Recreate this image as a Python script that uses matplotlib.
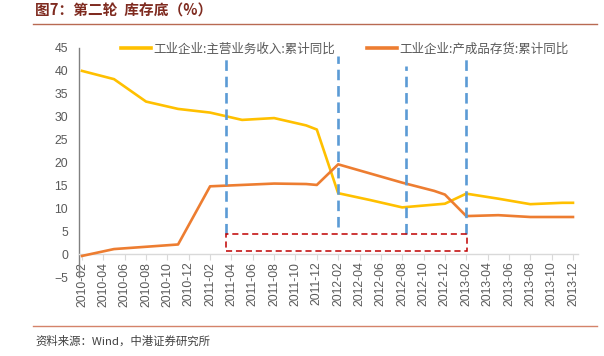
import matplotlib
matplotlib.use("Agg")
import matplotlib.pyplot as plt
from matplotlib.lines import Line2D
from matplotlib.patches import Rectangle

plt.rcParams['font.family'] = ['Noto Sans CJK SC', 'DejaVu Sans']

# ---- data (month index: 2010-01 = 0) ----
tick_pos = list(range(1, 48, 2))
tick_labels = [f"{2010 + (m // 12)}-{(m % 12) + 1:02d}" for m in tick_pos]

months = [1, 4, 7, 10, 13, 16, 19, 22, 23, 25, 28, 31, 34, 35, 37, 40, 43, 46, 47]
revenue = [40.0, 38.2, 33.3, 31.7, 30.9, 29.3, 29.7, 28.1, 27.2, 13.3, 11.8, 10.2,
           10.8, 11.0, 13.2, 12.1, 10.9, 11.2, 11.2]
inventory = [-0.4, 1.1, 1.6, 2.1, 14.8, 15.1, 15.4, 15.3, 15.1, 19.6, 17.6, 15.6,
             13.8, 13.0, 8.3, 8.5, 8.1, 8.1, 8.1]

name_rev = "工业企业:主营业务收入:累计同比"
name_inv = "工业企业:产成品存货:累计同比"

# annotation shapes (x in month index, y in %)
vlines = [(14.47, 4.4, 43.5), (25.0, 5.9, 43.3), (31.4, 4.4, 41.1), (37.0, 4.4, 42.5)]
box = (14.5, 0.7, 37.05, 4.4)

fig = plt.figure(figsize=(6.04, 3.56), dpi=100)
ax = fig.add_axes([79 / 604, 1 - 277 / 356, 499 / 604, 229 / 356])

c_rev = '#FFC000'
c_inv = '#ED7D31'
ax.plot(months, revenue, color=c_rev, lw=1.9, solid_joinstyle='round', zorder=3)
ax.plot(months, inventory, color=c_inv, lw=1.9, solid_joinstyle='round', zorder=3)

for x, y0, y1 in vlines:
    ax.plot([x, x], [y0, y1], color='#5B9BD5', lw=1.9, linestyle=(0, (4, 2.2)), zorder=4)

bx0, by0, bx1, by1 = box
ax.add_patch(Rectangle((bx0, by0), bx1 - bx0, by1 - by0, fill=False,
                       edgecolor='#C00000', lw=1.1, linestyle=(0, (4, 2.5)), zorder=4))

ax.set_xlim(0.72, 47.47)
ax.set_ylim(-5, 45)
ax.set_yticks(range(-5, 46, 5))
ax.set_xticks(tick_pos)
ax.set_xticklabels(tick_labels)
ax.tick_params(axis='y', length=0, labelsize=8.8, labelcolor='#595959', pad=8)
ax.tick_params(axis='x', length=4, width=0.8, color='#D9D9D9', pad=1.5,
               labelsize=8.8, labelcolor='#595959')

for s in ['top', 'right']:
    ax.spines[s].set_visible(False)
ax.spines['bottom'].set_position(('data', 0))
ax.spines['bottom'].set_color('#D9D9D9')
ax.spines['bottom'].set_linewidth(1.0)
ax.spines['left'].set_color('#808080')
ax.spines['left'].set_linewidth(1.0)

for lab in ax.get_xticklabels():
    lab.set_rotation(90)
    lab.set_ha('center')
    lab.set_va('top')
    lab.set_family(['Liberation Sans', 'DejaVu Sans'])
for lab in ax.get_yticklabels():
    lab.set_family(['Liberation Sans', 'DejaVu Sans'])

handles = [Line2D([], [], color=c_rev, lw=2.6), Line2D([], [], color=c_inv, lw=2.6)]
leg = fig.legend(handles, [name_rev, name_inv], loc='center left',
                 bbox_to_anchor=(121 / 604, 1 - 49 / 356), ncol=2, frameon=False,
                 fontsize=9, handlelength=2.4, handletextpad=0.15, columnspacing=2.6,
                 borderpad=0, borderaxespad=0)
for t in leg.get_texts():
    t.set_color('#595959')

fig.text(35 / 604, 1 - 11 / 356, "图7：第二轮  库存底（%）", fontsize=10.6, fontweight='bold',
         color='#7F2B20', va='center', ha='left')
fig.add_artist(Line2D([33 / 604, 597 / 604], [1 - 23.5 / 356] * 2, color='#B86A52', lw=1.0))
fig.add_artist(Line2D([33 / 604, 597 / 604], [1 - 326 / 356] * 2, color='#D4836A', lw=1.0))
fig.text(35 / 604, 1 - 341 / 356, "资料来源：Wind，中港证券研究所", fontsize=8.2, style='italic',
         color='#404040', va='center', ha='left')

fig.savefig("out.png", dpi=100)
